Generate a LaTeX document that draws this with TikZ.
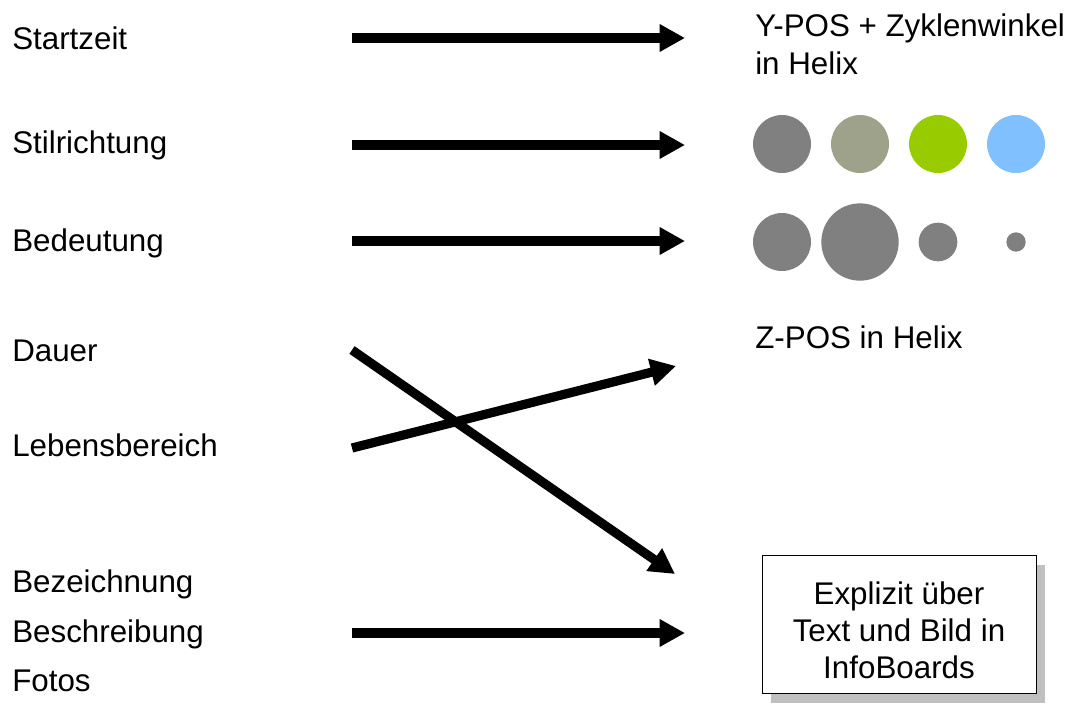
\documentclass[tikz,border=0pt]{standalone}
\usepackage{fontspec}
\setmainfont{Liberation Sans}
\usetikzlibrary{arrows.meta,shadows}
\definecolor{dotgray}{HTML}{808080}
\definecolor{dotkhaki}{HTML}{9FA28A}
\definecolor{dotgreen}{HTML}{99CC00}
\definecolor{dotblue}{HTML}{80C0FF}
\definecolor{shadowgray}{HTML}{C0C0C0}
\newcommand\txtfont{\fontsize{23.5}{27.75}\selectfont}

\begin{document}
\begin{tikzpicture}[x=0.75pt,y=-0.75pt]%
\tikzstyle{lbl}=[anchor=base west,inner sep=0pt,font=\txtfont] %%
\tikzstyle{pfeil}=[line width=6.9pt,-{Triangle[length=19pt,width=19.5pt]}] %%
\tikzstyle{dot}=[circle,inner sep=0pt,fill=dotgray] %%
\useasboundingbox (0,0) rectangle (1069,704);
% left column
\node[lbl] (start) at (12,49) {Startzeit}; %%
\node[lbl] (stil) at (12,153) {Stilrichtung}; %%
\node[lbl] (bed) at (12,251) {Bedeutung}; %%
\node[lbl] (dauer) at (12,361) {Dauer}; %%
\node[lbl] (leben) at (12,456) {Lebensbereich}; %%
\node[lbl] (bez) at (12,592) {Bezeichnung}; %%
\node[lbl] (besch) at (12,642) {Beschreibung}; %%
\node[lbl] (fotos) at (12,691) {Fotos}; %%
% right column
\node[lbl] (ypos) at (755,36) {Y-POS + Zyklenwinkel}; %%
\node[lbl] (yhelix) at (755,74) {in Helix}; %%
\node[lbl] (zpos) at (755,348) {Z-POS in Helix}; %%
\node[dot,minimum size=43.5pt] (c11) at (782,144) {}; %%
\node[dot,minimum size=43.5pt,fill=dotkhaki] (c12) at (860,144) {}; %%
\node[dot,minimum size=43.5pt,fill=dotgreen] (c13) at (938,144) {}; %%
\node[dot,minimum size=43.5pt,fill=dotblue] (c14) at (1016,144) {}; %%
\node[dot,minimum size=43.5pt] (c21) at (782,242) {}; %%
\node[dot,minimum size=58pt] (c22) at (860,242) {}; %%
\node[dot,minimum size=29pt] (c23) at (938,242) {}; %%
\node[dot,minimum size=14.5pt] (c24) at (1016,242) {}; %%
\node[draw,fill=white,line width=0.6pt,minimum width=205.5pt,minimum height=103.5pt,
  drop shadow={shadow xshift=6.75pt,shadow yshift=-7.5pt,fill=shadowgray,opacity=1}]
  (info) at (899,624) {}; %%
\node[align=center,font=\txtfont] (infotxt) at ([yshift=-5pt]info.center)
  {Explizit über\\Text und Bild in\\InfoBoards}; %%
% arrow ends
\coordinate (a1) at (352,38); \coordinate (b1) at (685,38);
\coordinate (a2) at (352,145); \coordinate (b2) at (685,145);
\coordinate (a3) at (352,241); \coordinate (b3) at (685,241);
\coordinate (a4) at (352,350); \coordinate (b4) at (675,574);
\coordinate (a5) at (352,448); \coordinate (b5) at (676,366);
\coordinate (a6) at (352,633); \coordinate (b6) at (685,633);
\draw[pfeil] (a1)--(b1); %%
\draw[pfeil] (a2)--(b2); %%
\draw[pfeil] (a3)--(b3); %%
\draw[pfeil] (a4)--(b4); %%
\draw[pfeil] (a5)--(b5); %%
\draw[pfeil] (a6)--(b6); %%
\end{tikzpicture}
\end{document}
